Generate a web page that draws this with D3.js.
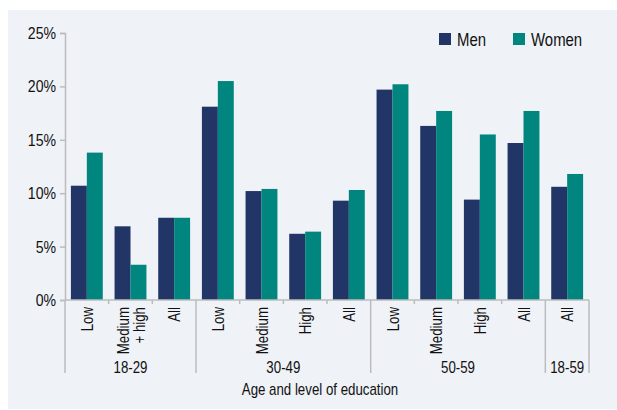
<!DOCTYPE html>
<html>
<head>
<meta charset="utf-8">
<script src="https://cdn.jsdelivr.net/npm/d3@7"></script>
<style>
  body { margin: 0; background: #fff; }
  svg text { font-family: "Liberation Sans", Arial, sans-serif; fill: #111; }
</style>
</head>
<body>
<div id="chart"></div>
<script>
// data
const series = ["Men", "Women"];
const categories = ["Low", "Medium\n+ high", "All", "Low", "Medium", "High", "All", "Low", "Medium", "High", "All", "All"];
const categoryGroup = ["18-29", "18-29", "18-29", "30-49", "30-49", "30-49", "30-49", "50-59", "50-59", "50-59", "50-59", "18-59"];
const groups = ["18-29", "30-49", "50-59", "18-59"];
const men = [10.7, 6.9, 7.7, 18.1, 10.2, 6.2, 9.3, 19.7, 16.3, 9.4, 14.7, 10.6];
const women = [13.8, 3.3, 7.7, 20.5, 10.4, 6.4, 10.3, 20.2, 17.7, 15.5, 17.7, 11.8];
const yTicks = [0, 5, 10, 15, 20, 25];
const colors = ["#213567", "#00857f"];

const W = 617, H = 410;
const margin = { top: 33, right: 28, bottom: 110, left: 65 };
const width = W - margin.left - margin.right;
const height = H - margin.top - margin.bottom;
const narrow = 0.83; // squeeze text to look like the condensed face

const svg = d3.select("#chart").append("svg")
    .attr("width", W)
    .attr("height", H);

// panel background
svg.append("rect")
    .attr("x", 8).attr("y", 10)
    .attr("width", W - 8).attr("height", H - 11)
    .attr("fill", "#eff2f7");

const g = svg.append("g")
    .attr("transform", `translate(${margin.left},${margin.top})`);

const idx = categories.map((d, i) => i);

const x = d3.scaleBand()
    .domain(idx)
    .range([0, width])
    .padding(0);

const x1 = d3.scaleBand()
    .domain(series)
    .range([0, x.bandwidth()])
    .paddingInner(0)
    .paddingOuter(0.37);

const y = d3.scaleLinear()
    .domain([0, 25])
    .range([height, 0]);

// y axis
const yAxis = g.append("g")
    .call(d3.axisLeft(y).tickValues(yTicks).tickFormat(d => d + "%").tickSize(5).tickPadding(4));
yAxis.select(".domain").attr("stroke", "#bcbcbc").attr("stroke-width", 1.5);
yAxis.selectAll(".tick line").attr("stroke", "#bcbcbc").attr("stroke-width", 1.5);
yAxis.selectAll("text")
    .attr("font-size", 17)
    .attr("fill", "#111")
    .attr("x", -9 / narrow)
    .attr("transform", `scale(${narrow},1)`)
    .style("font-family", '"Liberation Sans", Arial, sans-serif');

// bars
const rows = idx.map(i => ({ i, values: [men[i], women[i]] }));
g.selectAll(".cat")
    .data(rows)
    .join("g")
    .attr("class", "cat")
    .attr("transform", d => `translate(${x(d.i)},0)`)
    .selectAll("rect")
    .data(d => series.map((s, k) => ({ s, k, v: d.values[k] })))
    .join("rect")
    .attr("x", d => x1(d.s))
    .attr("width", x1.bandwidth())
    .attr("y", d => y(d.v))
    .attr("height", d => height - y(d.v))
    .attr("fill", d => colors[d.k]);

// x axis line
const axisG = g.append("g").attr("transform", `translate(0,${height})`);
axisG.append("line")
    .attr("x1", 0).attr("x2", width)
    .attr("stroke", "#bcbcbc").attr("stroke-width", 1.5);

// small ticks between categories, long lines between groups
const bounds = d3.range(categories.length + 1);
axisG.selectAll(".bnd")
    .data(bounds)
    .join("line")
    .attr("class", "bnd")
    .attr("x1", d => d * x.step())
    .attr("x2", d => d * x.step())
    .attr("y1", 0)
    .attr("y2", d => (d === 0 || d === categories.length || categoryGroup[d] !== categoryGroup[d - 1]) ? 73 : 4)
    .attr("stroke", "#bcbcbc").attr("stroke-width", 1.5);

// category labels (rotated)
axisG.selectAll(".catlab")
    .data(idx)
    .join("text")
    .attr("class", "catlab")
    .attr("transform", d => `translate(${x(d) + x.bandwidth() / 2},7) rotate(-90) scale(${narrow},1)`)
    .attr("text-anchor", "end")
    .attr("font-size", 16)
    .each(function (d) {
        const lines = categories[d].split("\n");
        const t = d3.select(this);
        lines.forEach((ln, k) => {
            t.append("tspan")
                .attr("x", 0)
                .attr("y", (k - (lines.length - 1) / 2) * 16 + 6)
                .text(ln);
        });
    });

// group labels
axisG.selectAll(".grplab")
    .data(groups)
    .join("text")
    .attr("class", "grplab")
    .attr("transform", grp => {
        const ids = idx.filter(i => categoryGroup[i] === grp);
        const cx = (x(ids[0]) + x(ids[ids.length - 1]) + x.bandwidth()) / 2;
        return `translate(${cx},73) scale(${narrow},1)`;
    })
    .attr("text-anchor", "middle")
    .attr("font-size", 16)
    .text(d => d);

// axis title
axisG.append("text")
    .attr("transform", `translate(${width / 2 - 7},95) scale(${narrow},1)`)
    .attr("text-anchor", "middle")
    .attr("font-size", 16)
    .text("Age and level of education");

// legend
const legend = svg.append("g").attr("transform", "translate(439,33)");
const legX = [0, 74];
series.forEach((s, k) => {
    const lg = legend.append("g").attr("transform", `translate(${legX[k]},0)`);
    lg.append("rect").attr("width", 12).attr("height", 12).attr("fill", colors[k]);
    lg.append("text")
        .attr("transform", `translate(18,13) scale(${narrow},1)`)
        .attr("font-size", 18)
        .text(s);
});
</script>
</body>
</html>
